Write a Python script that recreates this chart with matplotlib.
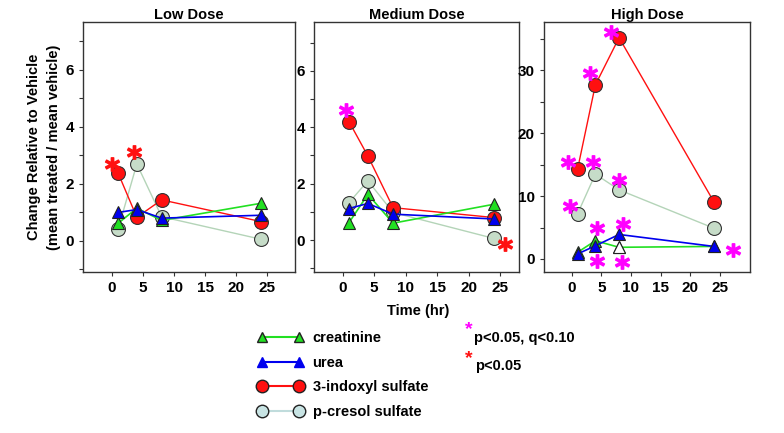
import matplotlib
matplotlib.use("Agg")
import matplotlib.pyplot as plt
from matplotlib.lines import Line2D

plt.rcParams.update({
    "font.family": "Liberation Sans", "font.weight": "bold",
    "axes.edgecolor": "#333333", "axes.linewidth": 1.0,
    "xtick.major.size": 3, "ytick.major.size": 3,
})

TIME = [1, 4, 8, 24]
DOSES = ["Low Dose", "Medium Dose", "High Dose"]

# values per dose (low, medium, high)
creatinine = [[0.62, 1.15, 0.72, 1.32], [0.62, 1.62, 0.60, 1.27], [1.06, 2.9, 1.86, 2.0]]
urea = [[1.0, 1.1, 0.8, 0.9], [1.12, 1.3, 0.92, 0.75], [0.8, 2.1, 3.9, 2.0]]
indoxyl = [[2.37, 0.83, 1.44, 0.68], [4.2, 2.98, 1.15, 0.8], [14.3, 27.7, 35.2, 9.1]]
cresol = [[0.43, 2.7, 0.85, 0.06], [1.33, 2.1, 0.98, 0.06], [7.2, 13.5, 11.0, 4.9]]

# significance stars: (x, y, kind) kind "q" = magenta, "p" = red
stars = [
    [(0.0, 2.69, "p"), (3.5, 3.13, "p")],
    [(0.6, 4.62, "q"), (25.8, -0.12, "p")],
    [(-0.56, 15.4, "q"), (3.65, 15.4, "q"), (6.7, 36.1, "q"), (3.1, 29.6, "q"),
     (8.0, 12.6, "q"), (-0.3, 8.4, "q"), (4.3, 4.9, "q"), (8.7, 5.5, "q"),
     (4.3, -0.3, "q"), (8.5, -0.5, "q"), (27.2, 1.5, "q")],
]

GREEN, BLUE, RED = "#22e022", "#0000ee", "#ff1010"
CRES_FILL, CRES_LINE = "#c6dcc8", "#b4d4b8"
STAR = {"q": "#ff00ff", "p": "#ff1010"}

W, H = 784, 433
fig = plt.figure(figsize=(W / 100, H / 100), dpi=100)

boxes = [(83, 295), (314, 519), (544, 750)]
xlims = [(-4.68, 29.5), (-4.56, 28.0), (-4.67, 30.1)]
ylims = [(-1.09, 7.68), (-1.13, 7.73), (-2.07, 37.7)]
top, bot = 22, 272

for i in range(3):
    l, r = boxes[i]
    ax = fig.add_axes([l / W, (H - bot) / H, (r - l) / W, (bot - top) / H])
    ax.plot(TIME, cresol[i], "-", color=CRES_LINE, lw=1, marker="o", ms=10,
            mfc=CRES_FILL, mec="#333333", mew=0.8, zorder=2)
    ax.plot(TIME, indoxyl[i], "-", color=RED, lw=1, marker="o", ms=10,
            mfc=RED, mec="#333333", mew=0.8, zorder=3)
    ax.plot(TIME, creatinine[i], "-", color=GREEN, lw=1.2, marker="^", ms=8.5,
            mfc=GREEN, mec="#222222", mew=0.8, zorder=4)
    ax.plot(TIME, urea[i], "-", color=BLUE, lw=1.2, marker="^", ms=8.5,
            mfc=BLUE, mec="#222222", mew=0.8, zorder=5)
    if i == 2:
        # hollow creatinine point at 8 hr
        ax.plot(TIME[2], creatinine[i][2], "^", ms=8.5, mfc="white",
                mec="#222222", mew=0.8, zorder=6)
    for sx, sy, k in stars[i]:
        ax.plot(sx, sy, marker="$*$", ms=10, color=STAR[k], zorder=7,
                clip_on=False)
    ax.set_xlim(*xlims[i])
    ax.set_ylim(*ylims[i])
    ax.set_xticks([0, 5, 10, 15, 20, 25])
    if i < 2:
        ticks = list(range(-1, 8))
        ax.set_yticks(ticks, [str(t) if t % 2 == 0 and t >= 0 else "" for t in ticks])
    else:
        ticks = list(range(0, 40, 5))
        ax.set_yticks(ticks, [str(t) if t % 10 == 0 else "" for t in ticks])
    ax.tick_params(labelsize=11, width=0.8, color="#333333")
    for lab in ax.get_xticklabels() + ax.get_yticklabels():
        lab.set_fontweight("bold")
    ax.set_title(DOSES[i], fontsize=10.5, fontweight="bold", pad=2)

fig.text(34 / W, 1 - 147 / H, "Change Relative to Vehicle", rotation=90,
         ha="center", va="center", fontsize=10.5, fontweight="bold")
fig.text(54 / W, 1 - 147 / H, "(mean treated / mean vehicle)", rotation=90,
         ha="center", va="center", fontsize=10.5, fontweight="bold")
fig.text(418 / W, 1 - 311 / H, "Time (hr)", ha="center", va="center",
         fontsize=10.5, fontweight="bold")

handles = [
    Line2D([], [], color=GREEN, lw=1.5, marker="^", ms=7.5, mfc=GREEN, mec="#222222"),
    Line2D([], [], color=BLUE, lw=1.5, marker="^", ms=7.5, mfc=BLUE, mec=BLUE),
    Line2D([], [], color=RED, lw=1.5, marker="o", ms=9, mfc=RED, mec="#222222"),
    Line2D([], [], color="#c0dcdc", lw=1.5, marker="o", ms=9, mfc="#c8e4e4", mec="#222222"),
]
labels = ["creatinine", "urea", "3-indoxyl sulfate", "p-cresol sulfate"]
fig.legend(handles, labels, numpoints=2, frameon=False, loc="upper left",
           bbox_to_anchor=(244 / W, 1 - 318 / H), handlelength=3.2,
           handletextpad=0.6, labelspacing=0.72, prop={"size": 10.5, "weight": "bold"})

fig.text(469 / W, 1 - 330 / H, "*", color=STAR["q"], ha="center", va="center",
         fontsize=14, fontweight="bold")
fig.text(474 / W, 1 - 338 / H, "p<0.05, q<0.10", ha="left", va="center",
         fontsize=10.5, fontweight="bold")
fig.text(469 / W, 1 - 359 / H, "*", color=STAR["p"], ha="center", va="center",
         fontsize=14, fontweight="bold")
fig.text(475 / W, 1 - 366 / H, "p<0.05", ha="left", va="center",
         fontsize=10.5, fontweight="bold")

fig.savefig("out.png", dpi=100)
